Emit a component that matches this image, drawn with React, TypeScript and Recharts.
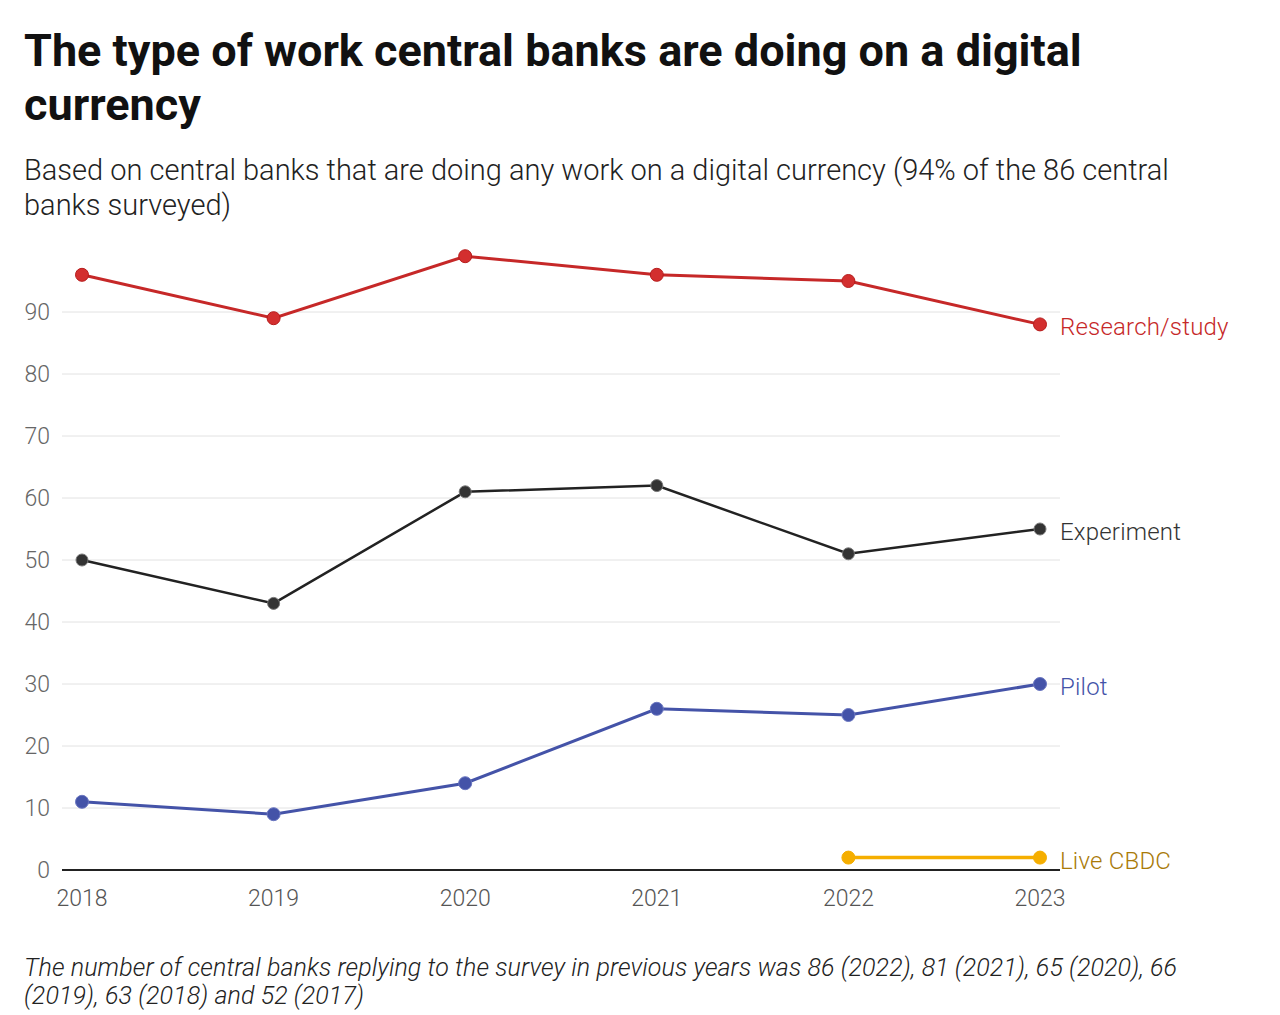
import { LineChart, Line, XAxis, YAxis, CartesianGrid } from "recharts";

const years = ["2018", "2019", "2020", "2021", "2022", "2023"];
const research = [96, 89, 99, 96, 95, 88];
const experiment = [50, 43, 61, 62, 51, 55];
const pilot = [11, 9, 14, 26, 25, 30];
const liveCbdc = [null, null, null, null, 2, 2];
const yTicks = [0, 10, 20, 30, 40, 50, 60, 70, 80, 90];

const data = years.map((year, i) => ({
  year,
  research: research[i],
  experiment: experiment[i],
  pilot: pilot[i],
  live: liveCbdc[i],
}));

const font = "Roboto, 'Noto Sans', sans-serif";

const endLabel = (text: string, color: string) => (props: any) => {
  const { x, y, index } = props;
  if (index !== years.length - 1) return null;
  return (
    <text
      x={x + 20}
      y={y + 3}
      fill={color}
      fontSize={24}
      fontWeight={300}
      fontFamily={font}
      letterSpacing={0.2}
      dominantBaseline="central"
    >
      {text}
    </text>
  );
};

const App = () => {
  return (
    <div
      style={{
        position: "absolute",
        left: 0,
        top: 0,
        width: 1280,
        height: 1015,
        background: "#fff",
        fontFamily: font,
        color: "#111",
      }}
    >
      <div
        style={{
          position: "absolute",
          left: 24,
          top: 24,
          fontSize: 45,
          fontWeight: 700,
          lineHeight: "54px",
          whiteSpace: "nowrap",
        }}
      >
        The type of work central banks are doing on a digital
        <br />
        currency
      </div>
      <div
        style={{
          position: "absolute",
          left: 24,
          top: 153,
          fontSize: 29,
          fontWeight: 300,
          lineHeight: "35px",
          color: "#222",
          whiteSpace: "nowrap",
        }}
      >
        Based on central banks that are doing any work on a digital currency (94% of the 86 central
        <br />
        banks surveyed)
      </div>

      <div style={{ position: "absolute", left: 0, top: 0 }}>
        <LineChart
          width={1280}
          height={1015}
          data={data}
          margin={{ top: 250, right: 220, bottom: 115, left: 10 }}
        >
          <CartesianGrid vertical={false} stroke="#e2e2e2" horizontalValues={yTicks} />
          <XAxis
            dataKey="year"
            padding={{ left: 20, right: 20 }}
            axisLine={{ stroke: "#222", strokeWidth: 2 }}
            tickLine={false}
            tick={{ fill: "#555", fontSize: 23, fontWeight: 300, fontFamily: font }}
            tickMargin={14}
          />
          <YAxis
            width={52}
            domain={[0, 100]}
            ticks={yTicks}
            axisLine={false}
            tickLine={false}
            tickMargin={6}
            tick={{ fill: "#666", fontSize: 23, fontWeight: 300, fontFamily: font }}
          />
          <Line
            dataKey="research"
            stroke="#c62828"
            strokeWidth={3}
            dot={{ r: 6.5, fill: "#d32f2f", stroke: "#b71c1c", strokeWidth: 1 }}
            isAnimationActive={false}
            label={endLabel("Research/study", "#c62828")}
          />
          <Line
            dataKey="experiment"
            stroke="#222"
            strokeWidth={2.5}
            dot={{ r: 6, fill: "#333", stroke: "#777", strokeWidth: 1 }}
            isAnimationActive={false}
            label={endLabel("Experiment", "#333")}
          />
          <Line
            dataKey="pilot"
            stroke="#4453a8"
            strokeWidth={3}
            dot={{ r: 6.5, fill: "#4453a8", stroke: "#6a76c0", strokeWidth: 1 }}
            isAnimationActive={false}
            label={endLabel("Pilot", "#4453a8")}
          />
          <Line
            dataKey="live"
            stroke="#f5ae00"
            strokeWidth={3.5}
            dot={{ r: 6.5, fill: "#f5ae00", stroke: "#f5ae00", strokeWidth: 1 }}
            isAnimationActive={false}
            connectNulls={false}
            label={endLabel("Live CBDC", "#a97a08")}
          />
        </LineChart>
      </div>

      <div
        style={{
          position: "absolute",
          left: 24,
          top: 954,
          fontSize: 25,
          fontWeight: 300,
          fontStyle: "italic",
          lineHeight: "28px",
          letterSpacing: 0.1,
          color: "#222",
          whiteSpace: "nowrap",
        }}
      >
        The number of central banks replying to the survey in previous years was 86 (2022), 81 (2021), 65 (2020), 66
        <br />
        (2019), 63 (2018) and 52 (2017)
      </div>
    </div>
  );
};

export default App;
